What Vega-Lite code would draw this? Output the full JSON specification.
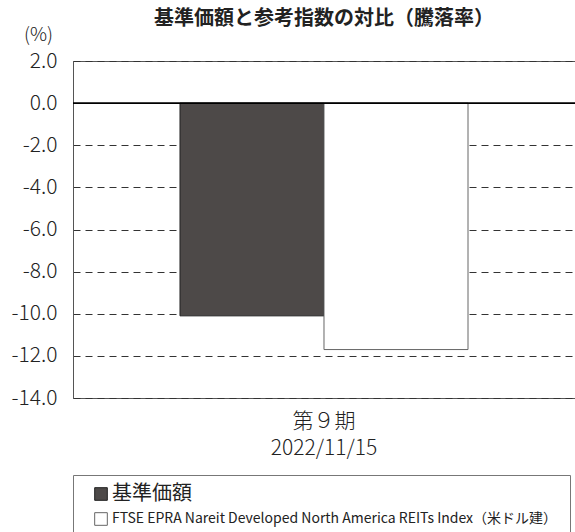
{
  "$schema": "https://vega.github.io/schema/vega-lite/v6.json",
  "width": 502,
  "height": 337,
  "autosize": {"type": "none"},
  "padding": {"left": 73, "top": 61, "right": 0, "bottom": 134},
  "background": "white",
  "title": {
    "text": "基準価額と参考指数の対比（騰落率）",
    "font": "Noto Sans CJK JP",
    "fontSize": 20,
    "fontWeight": "bold",
    "color": "#222",
    "anchor": "middle",
    "offset": -4
  },
  "data": {
    "values": [
      {"period": "第９期|2022/11/15", "series": "基準価額", "value": -10.1},
      {"period": "第９期|2022/11/15", "series": "FTSE EPRA Nareit Developed North America REITs Index（米ドル建）", "value": -11.7}
    ]
  },
  "layer": [
    {
      "mark": {"type": "bar", "strokeWidth": 1},
      "encoding": {
        "x": {
          "field": "period",
          "type": "nominal",
          "scale": {"paddingOuter": 0.3715, "paddingInner": 0},
          "axis": {
            "title": null,
            "labelAngle": 0,
            "labelExpr": "split(datum.label, '|')",
            "labelFont": "Noto Sans CJK JP",
            "labelFontSize": 21,
            "labelFontWeight": 300,
            "labelLineHeight": 27,
            "labelColor": "#222",
            "labelBaseline": "top",
            "labelPadding": 12,
            "ticks": false,
            "domain": false
          }
        },
        "xOffset": {
          "field": "series",
          "type": "nominal",
          "sort": ["基準価額", "FTSE EPRA Nareit Developed North America REITs Index（米ドル建）"],
          "scale": {"paddingInner": 0, "paddingOuter": 0}
        },
        "y": {
          "field": "value",
          "type": "quantitative",
          "scale": {"domain": [-14, 2], "nice": false, "zero": false},
          "axis": {
            "values": [-14, -12, -10, -8, -6, -4, -2, 0, 2],
            "labelExpr": "replace(format(datum.value, '.1f'), '−', '-')",
            "labelFont": "Noto Sans CJK JP",
            "labelFontSize": 21,
            "labelFontWeight": 300,
            "labelColor": "#222",
            "labelPadding": 16,
            "ticks": false,
            "domainColor": "#555",
            "grid": true,
            "gridColor": "#333",
            "gridDash": [7, 5],
            "gridWidth": 1,
            "title": "(%)",
            "titleAngle": 0,
            "titleAlign": "center",
            "titleBaseline": "middle",
            "titleX": -35,
            "titleY": -27,
            "titleFont": "Noto Sans CJK JP",
            "titleFontSize": 19,
            "titleFontWeight": 300,
            "titleColor": "#222"
          }
        },
        "fill": {
          "field": "series",
          "type": "nominal",
          "scale": {
            "domain": ["基準価額", "FTSE EPRA Nareit Developed North America REITs Index（米ドル建）"],
            "range": ["#4d4948", "#ffffff"]
          },
          "legend": {
            "title": null,
            "orient": "none",
            "legendX": 0,
            "legendY": 414,
            "strokeColor": "#777",
            "padding": 12,
            "symbolType": "square",
            "symbolSize": 160,
            "symbolStrokeWidth": 1,
            "symbolOffset": 9,
            "labelFont": "Noto Sans CJK JP",
            "labelFontSize": 14,
            "labelColor": "#222",
            "labelLimit": 0,
            "rowPadding": 6,
            "encode": {
              "labels": {
                "update": {
                  "fontSize": {"signal": "datum.value === '基準価額' ? 20 : 14"}
                }
              }
            }
          }
        },
        "stroke": {
          "field": "series",
          "type": "nominal",
          "scale": {
            "domain": ["基準価額", "FTSE EPRA Nareit Developed North America REITs Index（米ドル建）"],
            "range": ["#222222", "#666666"]
          },
          "legend": null
        }
      }
    },
    {
      "mark": {"type": "rule", "color": "#000", "strokeWidth": 1.5},
      "encoding": {"y": {"datum": 0}}
    }
  ],
  "config": {
    "view": {"stroke": "#555"}
  }
}
